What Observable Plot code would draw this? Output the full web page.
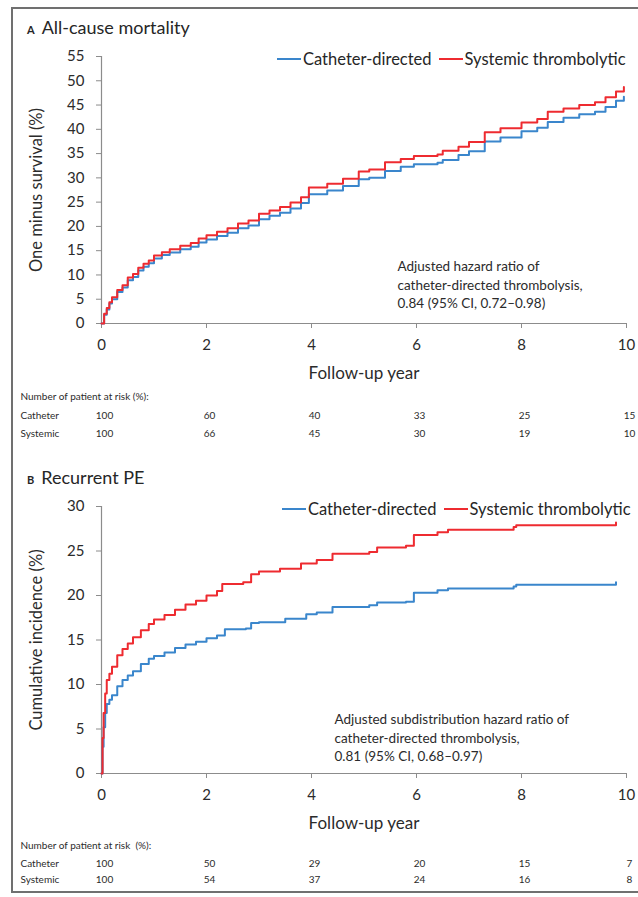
<!DOCTYPE html>
<html>
<head>
<meta charset="utf-8">
<script src="https://cdn.jsdelivr.net/npm/d3@7"></script>
<script src="https://cdn.jsdelivr.net/npm/@observablehq/plot@0.6"></script>
<style>
  body { margin: 0; background: #fff; font-family: Lato, "Open Sans", sans-serif; color: #262626; }
  #frame { position: absolute; left: 11px; top: 7px; width: 700px; height: 886px; border: 2px solid #707070; box-sizing: border-box; }
  .panel { position: absolute; left: 0; width: 638px; }
  .title { position: absolute; left: 27px; font-size: 18px; line-height: 20px; white-space: nowrap; }
  .title b { font-size: 11px; margin-right: 7px; }
  .legend { position: absolute; display: flex; align-items: center; font-size: 16.5px; line-height: 18px; white-space: nowrap; }
  .legend i { display: inline-block; width: 24px; height: 2.5px; margin-right: 2px; }
  .legend span + i { margin-left: 7px; }
</style>
</head>
<body>
<div id="frame"></div>
<div id="root"></div>
<script>
// Shared axis ticks and series names
const xTicks = [0, 2, 4, 6, 8, 10];
const groups = ["Catheter-directed", "Systemic thrombolytic"];
const groupColors = ["#3a86cc", "#ee2b30"];

// A: all-cause mortality, one minus survival (%) by follow-up year
const mortalityTicks = [0, 5, 10, 15, 20, 25, 30, 35, 40, 45, 50, 55];
const mortalityCatheter = [
  [0, 0], [0.05, 1.8], [0.1, 2.9], [0.15, 4.1], [0.2, 5.0], [0.3, 6.5], [0.4, 7.4], [0.5, 8.9],
  [0.6, 9.6], [0.7, 10.9], [0.8, 11.7], [0.9, 12.4], [1.0, 13.4], [1.15, 14.1], [1.3, 14.6],
  [1.5, 15.3], [1.7, 15.8], [1.85, 16.7], [2.0, 17.3], [2.2, 18.0], [2.4, 18.7], [2.6, 19.6],
  [2.8, 20.2], [3.0, 21.5], [3.2, 22.2], [3.4, 22.8], [3.6, 23.7], [3.8, 24.8], [3.95, 26.6],
  [4.3, 27.4], [4.6, 28.3], [4.9, 29.7], [5.1, 30.0], [5.4, 31.4], [5.7, 32.3], [5.95, 32.8],
  [6.4, 33.1], [6.5, 33.7], [6.8, 34.7], [7.0, 35.5], [7.3, 37.5], [7.6, 38.3], [8.0, 39.6],
  [8.3, 40.3], [8.5, 41.5], [8.8, 42.4], [9.1, 43.1], [9.4, 43.6], [9.6, 44.6], [9.8, 45.9],
  [9.95, 46.7]
];
const mortalitySystemic = [
  [0, 0], [0.05, 2.0], [0.1, 3.2], [0.15, 4.4], [0.2, 5.4], [0.3, 6.9], [0.4, 7.9], [0.5, 9.5],
  [0.6, 10.2], [0.7, 11.5], [0.8, 12.3], [0.9, 13.0], [1.0, 14.0], [1.15, 14.7], [1.3, 15.3],
  [1.5, 16.0], [1.7, 16.6], [1.85, 17.5], [2.0, 18.2], [2.2, 18.9], [2.4, 19.6], [2.6, 20.6],
  [2.8, 21.2], [3.0, 22.6], [3.2, 23.3], [3.4, 24.0], [3.6, 24.9], [3.8, 26.0], [3.95, 28.0],
  [4.3, 28.8], [4.6, 29.8], [4.9, 31.3], [5.1, 31.7], [5.4, 33.2], [5.7, 33.9], [5.95, 34.5],
  [6.4, 34.8], [6.5, 35.6], [6.8, 36.4], [7.0, 37.4], [7.3, 39.4], [7.6, 40.2], [8.0, 41.4],
  [8.3, 42.1], [8.5, 43.6], [8.8, 44.3], [9.1, 45.0], [9.4, 45.6], [9.6, 46.6], [9.8, 47.8],
  [9.95, 48.7]
];
const mortalityRiskCatheter = [100, 60, 40, 33, 25, 15];
const mortalityRiskSystemic = [100, 66, 45, 30, 19, 10];
const mortalityNote = [
  "Adjusted hazard ratio of",
  "catheter-directed thrombolysis,",
  "0.84 (95% CI, 0.72\u20130.98)"
];

// B: recurrent PE, cumulative incidence (%) by follow-up year
const recurrenceTicks = [0, 5, 10, 15, 20, 25, 30];
const recurrenceCatheter = [
  [0, 0], [0.02, 3.0], [0.04, 5.2], [0.07, 6.8], [0.1, 7.8], [0.15, 8.3], [0.2, 8.8], [0.3, 9.8], [0.4, 10.5],
  [0.5, 11.0], [0.6, 11.5], [0.75, 12.3], [0.9, 12.9], [1.0, 13.2], [1.2, 13.6], [1.4, 14.1],
  [1.6, 14.5], [1.8, 14.8], [2.0, 15.2], [2.2, 15.5], [2.35, 16.2], [2.75, 16.3], [2.85, 16.9],
  [3.0, 17.0], [3.5, 17.4], [3.9, 17.9], [4.1, 18.1], [4.4, 18.7], [5.1, 18.9], [5.25, 19.2],
  [5.8, 19.3], [5.95, 20.3], [6.4, 20.6], [6.6, 20.8], [7.85, 21.0], [7.9, 21.2], [9.8, 21.5]
];
const recurrenceSystemic = [
  [0, 0], [0.02, 4.0], [0.04, 6.8], [0.07, 9.0], [0.1, 10.5], [0.15, 11.2], [0.2, 12.0], [0.3, 13.3], [0.4, 14.0],
  [0.5, 14.6], [0.6, 15.3], [0.75, 16.1], [0.9, 16.8], [1.0, 17.3], [1.2, 17.8], [1.4, 18.4],
  [1.6, 19.0], [1.8, 19.4], [2.0, 20.0], [2.2, 20.5], [2.3, 21.3], [2.7, 21.5], [2.85, 22.4],
  [3.0, 22.7], [3.4, 23.0], [3.8, 23.6], [4.1, 24.0], [4.4, 24.7], [5.1, 24.9], [5.25, 25.4],
  [5.8, 25.6], [5.95, 26.8], [6.4, 27.1], [6.6, 27.4], [7.85, 27.7], [7.9, 27.9], [9.8, 28.2]
];
const recurrenceRiskCatheter = [100, 50, 29, 20, 15, 7];
const recurrenceRiskSystemic = [100, 54, 37, 24, 16, 8];
const recurrenceNote = [
  "Adjusted subdistribution hazard ratio of",
  "catheter-directed thrombolysis,",
  "0.81 (95% CI, 0.68\u20130.97)"
];

const axisGray = "#8c8c8c";
const textColor = "#2b2b2b";

function panel(cfg) {
  const rows = [
    ...cfg.catheter.map(([t, v]) => ({t, v, group: groups[0]})),
    ...cfg.systemic.map(([t, v]) => ({t, v, group: groups[1]}))
  ];
  const riskRow = (counts) => xTicks.map((t, i) => ({t, n: String(counts[i])}));
  const small = {fontSize: 10, fill: textColor};
  return Plot.plot({
    width: 638,
    height: cfg.height,
    marginLeft: 101,
    marginRight: 12,
    marginTop: 56,
    marginBottom: cfg.marginBottom,
    x: {domain: [0, 10]},
    y: {domain: cfg.yDomain},
    color: {domain: groups, range: groupColors},
    style: {fontFamily: "Lato, 'Open Sans', sans-serif", color: textColor, background: "transparent", overflow: "visible"},
    marks: [
      Plot.axisY({ticks: cfg.yTicks, tickSize: 5, tickPadding: 12, fontSize: 15, stroke: axisGray, fill: textColor, label: null}),
      Plot.axisX({ticks: xTicks, tickSize: 5, tickPadding: 11, fontSize: 15, stroke: axisGray, fill: textColor, label: null}),
      Plot.ruleX([0], {stroke: axisGray, strokeWidth: 1.2}),
      Plot.ruleY([0], {stroke: axisGray, strokeWidth: 1.2}),
      Plot.line(rows, {x: "t", y: "v", z: "group", stroke: "group", strokeWidth: 2, curve: "step-after"}),
      Plot.text([cfg.yTitle], {frameAnchor: "left", textAnchor: "middle", rotate: -90, dx: -65, fontSize: 16.5, fill: textColor}),
      Plot.text(["Follow-up year"], {frameAnchor: "bottom", dy: 55, fontSize: 17, fill: textColor}),
      Plot.text([cfg.note.join("\n")], {frameAnchor: "bottom-left", dx: cfg.noteDx, dy: cfg.noteDy, textAnchor: "start", lineAnchor: "middle", lineHeight: 1.4, fontSize: 13.5, fill: textColor}),
      Plot.text([cfg.riskHeader], {frameAnchor: "bottom-left", dx: -81, dy: cfg.riskDy[0], textAnchor: "start", ...small}),
      Plot.text(["Catheter"], {frameAnchor: "bottom-left", dx: -81, dy: cfg.riskDy[1], textAnchor: "start", ...small}),
      Plot.text(["Systemic"], {frameAnchor: "bottom-left", dx: -81, dy: cfg.riskDy[2], textAnchor: "start", ...small}),
      Plot.text(riskRow(cfg.riskCatheter), {x: "t", text: "n", frameAnchor: "bottom", dx: 3, dy: cfg.riskDy[1], ...small}),
      Plot.text(riskRow(cfg.riskSystemic), {x: "t", text: "n", frameAnchor: "bottom", dx: 3, dy: cfg.riskDy[2], ...small})
    ]
  });
}

function legendHtml() {
  return `<i style="background:${groupColors[0]}"></i><span>${groups[0]}</span>` +
         `<i style="background:${groupColors[1]}"></i><span>${groups[1]}</span>`;
}

const root = document.getElementById("root");

function addPanel(top, letter, title, legendLeft, legendTop, plot) {
  const wrap = document.createElement("div");
  wrap.className = "panel";
  wrap.style.top = top + "px";
  wrap.appendChild(plot);
  const t = document.createElement("div");
  t.className = "title";
  t.style.top = "17px";
  t.innerHTML = `<b>${letter}</b>${title}`;
  wrap.appendChild(t);
  const lg = document.createElement("div");
  lg.className = "legend";
  lg.style.left = legendLeft + "px";
  lg.style.top = legendTop + "px";
  lg.innerHTML = legendHtml();
  wrap.appendChild(lg);
  root.appendChild(wrap);
}

addPanel(0, "A", "All-cause mortality", 277, 50, panel({
  height: 450, marginBottom: 127,
  catheter: mortalityCatheter, systemic: mortalitySystemic,
  yDomain: [0, 55], yTicks: mortalityTicks,
  yTitle: "One minus survival (%)",
  note: mortalityNote, noteDx: 296, noteDy: -40,
  riskHeader: "Number of patient at risk (%):",
  riskCatheter: mortalityRiskCatheter, riskSystemic: mortalityRiskSystemic,
  riskDy: [76, 95, 113]
}));

addPanel(450, "B", "Recurrent PE", 282, 50, panel({
  height: 447, marginBottom: 124,
  catheter: recurrenceCatheter, systemic: recurrenceSystemic,
  yDomain: [0, 30], yTicks: recurrenceTicks,
  yTitle: "Cumulative incidence (%)",
  note: recurrenceNote, noteDx: 233, noteDy: -37,
  riskHeader: "Number of patient at risk  (%):",
  riskCatheter: recurrenceRiskCatheter, riskSystemic: recurrenceRiskSystemic,
  riskDy: [75, 93, 109]
}));
</script>
</body>
</html>
